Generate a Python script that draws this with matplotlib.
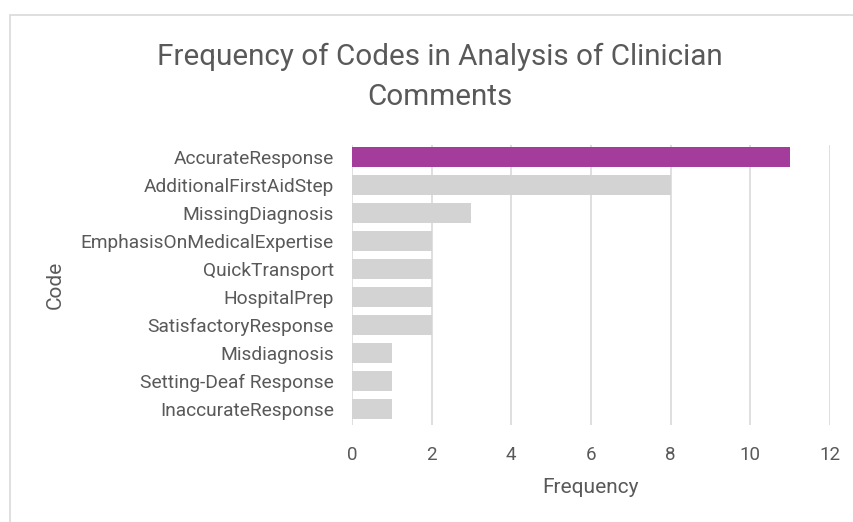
import matplotlib.pyplot as plt
from matplotlib.patches import Rectangle

codes = ['AccurateResponse', 'AdditionalFirstAidStep', 'MissingDiagnosis',
         'EmphasisOnMedicalExpertise', 'QuickTransport', 'HospitalPrep',
         'SatisfactoryResponse', 'Misdiagnosis', 'Setting-Deaf Response',
         'InaccurateResponse']
counts = [11, 8, 3, 2, 2, 2, 2, 1, 1, 1]
x_ticks = [0, 2, 4, 6, 8, 10, 12]

plt.rcParams['font.family'] = ['Roboto', 'DejaVu Sans']
text_color = '#595959'

fig = plt.figure(figsize=(8.54, 5.22), dpi=100)
ax = fig.add_axes([0.412, 0.186, 0.560, 0.536])

colors = ['#A43C9C'] + ['#D3D3D3'] * (len(codes) - 1)
ypos = list(range(len(codes)))
ax.barh(ypos, counts, height=0.72, color=colors, zorder=3)

ax.set_xlim(0, 12)
ax.set_ylim(9.57, -0.43)
ax.set_xticks(x_ticks)
ax.set_yticks(ypos)
ax.set_yticklabels(codes)
ax.grid(axis='x', color='#D9D9D9', linewidth=1.2, zorder=0)
for s in ax.spines.values():
    s.set_visible(False)
ax.tick_params(axis='y', length=0, pad=13, labelsize=13.8, labelcolor=text_color)
ax.tick_params(axis='x', length=0, pad=15, labelsize=13.5, labelcolor=text_color)

ax.set_xlabel('Frequency', fontsize=15, color=text_color)
ax.xaxis.set_label_coords(0.5, -0.19)
ax.set_ylabel('Code', fontsize=15, color=text_color)
ax.yaxis.set_label_coords(-0.60, 0.5)

fig.text(0.515, 0.852, 'Frequency of Codes in Analysis of Clinician\nComments',
         ha='center', va='center', fontsize=21.3, color=text_color, linespacing=1.55)

# chart frame
fig.patches.append(Rectangle((10 / 854, -0.05), 1.0, 1 - 15 / 522 + 0.05,
                             transform=fig.transFigure, fill=False,
                             edgecolor='#D9D9D9', linewidth=1.2))

fig.savefig('out.png', dpi=100)
